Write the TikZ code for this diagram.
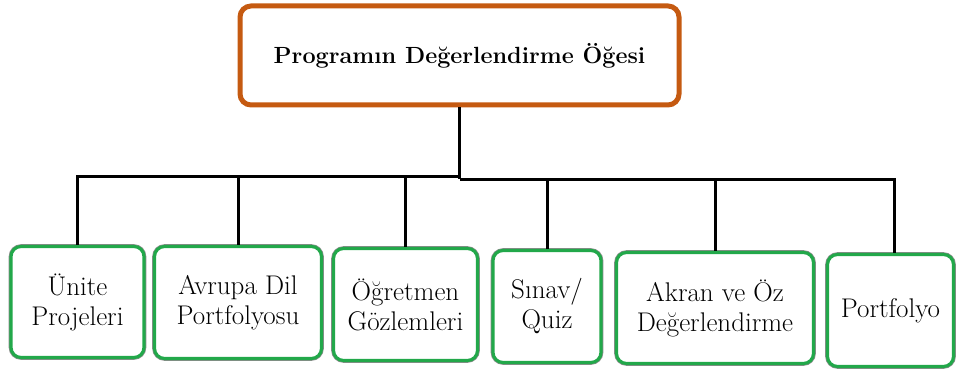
\documentclass[tikz,border=0pt]{standalone}
\begin{document}
\definecolor{topedge}{RGB}{197,90,17}
\definecolor{leafedge}{RGB}{34,168,74}
\begin{tikzpicture}[x=1pt,y=-1pt,
  topbox/.style={draw=topedge, line width=5pt, rounded corners=11pt, fill=white,
    inner sep=0pt, align=center, font=\fontsize{23.4}{27}\selectfont\bfseries},
  leaf/.style={draw=leafedge, line width=3.2pt, rounded corners=10pt, fill=white,
    inner sep=0pt, align=center, font=\fontsize{27}{30}\selectfont,
    preaction={draw=black!45, line width=4.6pt}},
  link/.style={draw=black, line width=3pt}]
\useasboundingbox (0,0) rectangle (957,371);

% root
\node[topbox, minimum width=439pt, minimum height=99pt] (top) at (459.5,55.5)
  {Programın Değerlendirme Öğesi};

% leaves
\node[leaf, minimum width=133pt, minimum height=111pt] (b1) at (77.5,302) {Ünite\\Projeleri};
\node[leaf, minimum width=167pt, minimum height=112pt] (b2) at (238,302.5) {Avrupa Dil\\Portfolyosu};
\node[leaf, minimum width=144pt, minimum height=112pt] (b3) at (405.5,304.5) {Öğretmen\\Gözlemleri};
\node[leaf, minimum width=108pt, minimum height=112pt] (b4) at (547,306.5) {Sınav/\\Quiz};
\node[leaf, minimum width=197pt, minimum height=111pt] (b5) at (715,308) {Akran ve Öz\\Değerlendirme};
\node[leaf, minimum width=126pt, minimum height=112pt] (b6) at (890.5,310.5) {Portfolyo};

% bus junctions
\coordinate (jl) at (459.5,176.7);
\coordinate (jr) at (459.5,179.3);

% connectors
\draw[link] (top.south) -- (jr);
\draw[link] (b1.north) |- (jl);
\draw[link] (b2.north) |- (jl);
\draw[link] (b3.north) |- (jl);
\draw[link] (b4.north) |- (jr);
\draw[link] (b5.north) |- (jr);
\draw[link] ([xshift=3.5pt]b6.north) |- (jr);
\end{tikzpicture}
\end{document}
